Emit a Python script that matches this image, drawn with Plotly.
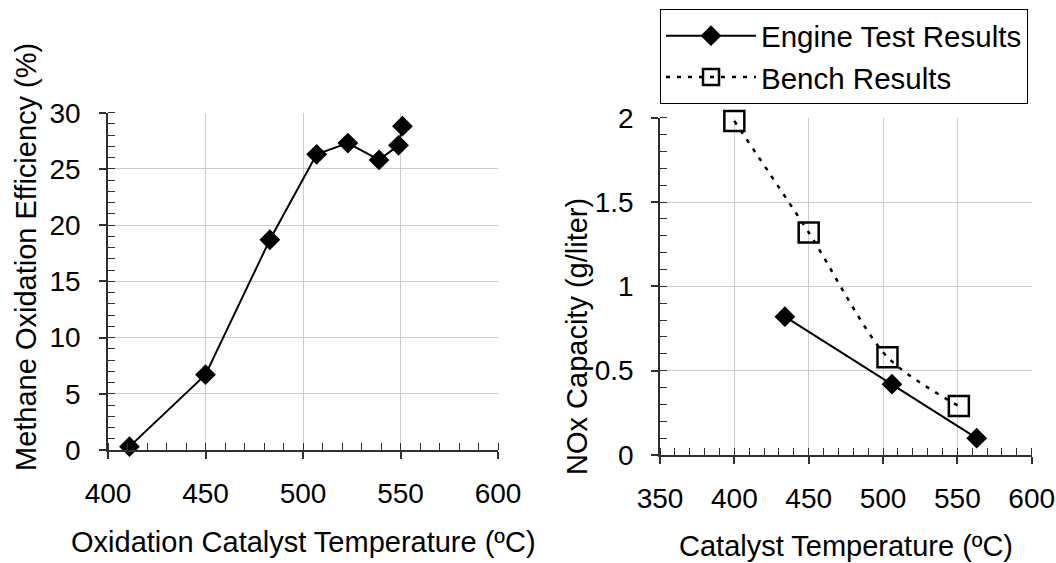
import plotly.graph_objects as go

# ---- data ----
oxid_temp = [411, 450, 483, 507, 523, 539, 549, 551]
oxid_eff = [0.3, 6.7, 18.7, 26.3, 27.3, 25.8, 27.1, 28.8]

engine_temp = [434, 506, 563]
engine_nox = [0.82, 0.42, 0.10]

bench_temp = [400, 450, 503, 551]
bench_nox = [1.98, 1.32, 0.58, 0.29]

left_xticks = [400, 450, 500, 550, 600]
left_yticks = [0, 5, 10, 15, 20, 25, 30]
right_xticks = [350, 400, 450, 500, 550, 600]
right_yticks = [0, 0.5, 1, 1.5, 2]

W, H = 1056, 563
FONT = "Liberation Sans, Arial, sans-serif"

def px(x):
    return x / W

def py(y):
    return 1 - y / H

fig = go.Figure()

fig.add_trace(go.Scatter(
    x=oxid_temp, y=oxid_eff, mode="lines+markers",
    line=dict(color="black", width=2),
    marker=dict(symbol="diamond", size=16, color="black"),
    showlegend=False, xaxis="x", yaxis="y", cliponaxis=False,
))

fig.add_trace(go.Scatter(
    x=engine_temp, y=engine_nox, mode="lines+markers", name="Engine Test Results",
    line=dict(color="black", width=2),
    marker=dict(symbol="diamond", size=16, color="black"),
    xaxis="x2", yaxis="y2", cliponaxis=False,
))

fig.add_trace(go.Scatter(
    x=bench_temp, y=bench_nox, mode="lines+markers", name="Bench Results",
    line=dict(color="black", width=2.5, dash="4px,7px", shape="spline", smoothing=0.8),
    marker=dict(symbol="square-open", size=20, color="black", line=dict(width=2.5, color="black")),
    xaxis="x2", yaxis="y2", cliponaxis=False,
))

axis_common = dict(
    showline=True, linecolor="#303030", linewidth=1.5,
    showgrid=True, gridcolor="#cccccc", gridwidth=1,
    ticks="outside", ticklen=7, tickcolor="#303030", tickwidth=1.5,
    tickfont=dict(family=FONT, size=28, color="black"),
    zeroline=False, automargin=False,
)

TITLE_SIZE = 29

fig.update_layout(
    width=W, height=H,
    margin=dict(l=0, r=0, t=0, b=0, pad=0, autoexpand=False),
    paper_bgcolor="white", plot_bgcolor="white",
    font=dict(family=FONT, color="black"),
    xaxis=dict(
        domain=[px(108), px(498)], range=[400, 600], tickvals=left_xticks,
        anchor="y",
        minor=dict(ticks="inside", ticklen=7, dtick=10, tickcolor="#303030", tickwidth=1, showgrid=False),
        ticklabelstandoff=11,
        **axis_common,
    ),
    yaxis=dict(
        domain=[py(450), py(112.7)], range=[0, 30], tickvals=left_yticks,
        anchor="x",
        minor=dict(ticks="inside", ticklen=7, dtick=1, tickcolor="#303030", tickwidth=1, showgrid=False),
        ticklabelstandoff=13,
        **axis_common,
    ),
    xaxis2=dict(
        domain=[px(660), px(1031.7)], range=[350, 600], tickvals=right_xticks,
        anchor="y2",
        minor=dict(ticks="inside", ticklen=7, dtick=10, tickcolor="#303030", tickwidth=1, showgrid=False),
        ticklabelstandoff=11,
        **axis_common,
    ),
    yaxis2=dict(
        domain=[py(455), py(117.7)], range=[0, 2], tickvals=right_yticks,
        anchor="x2",
        minor=dict(ticks="inside", ticklen=7, dtick=0.1, tickcolor="#303030", tickwidth=1, showgrid=False),
        ticklabelstandoff=12,
        **axis_common,
    ),
    legend=dict(
        x=px(660), y=py(9), xanchor="left", yanchor="top",
        bordercolor="black", borderwidth=1, bgcolor="white",
        font=dict(family=FONT, size=29.5, color="black"),
        itemwidth=90, tracegroupgap=0,
    ),
    annotations=[
        dict(text="Methane Oxidation Efficiency (%)", textangle=-90,
             x=px(26), y=py(257), xref="paper", yref="paper",
             xanchor="center", yanchor="middle", showarrow=False,
             font=dict(family=FONT, size=TITLE_SIZE, color="black")),
        dict(text="Oxidation Catalyst Temperature (ºC)",
             x=px(303), y=py(542), xref="paper", yref="paper",
             xanchor="center", yanchor="middle", showarrow=False,
             font=dict(family=FONT, size=TITLE_SIZE, color="black")),
        dict(text="NOx Capacity (g/liter)", textangle=-90,
             x=px(577), y=py(337), xref="paper", yref="paper",
             xanchor="center", yanchor="middle", showarrow=False,
             font=dict(family=FONT, size=TITLE_SIZE, color="black")),
        dict(text="Catalyst Temperature (ºC)",
             x=px(846), y=py(546), xref="paper", yref="paper",
             xanchor="center", yanchor="middle", showarrow=False,
             font=dict(family=FONT, size=TITLE_SIZE, color="black")),
    ],
)

fig.write_html(
    "out.html",
    config={"displayModeBar": False},
    post_script="document.body.style.margin='0';document.body.style.overflow='hidden';",
)
